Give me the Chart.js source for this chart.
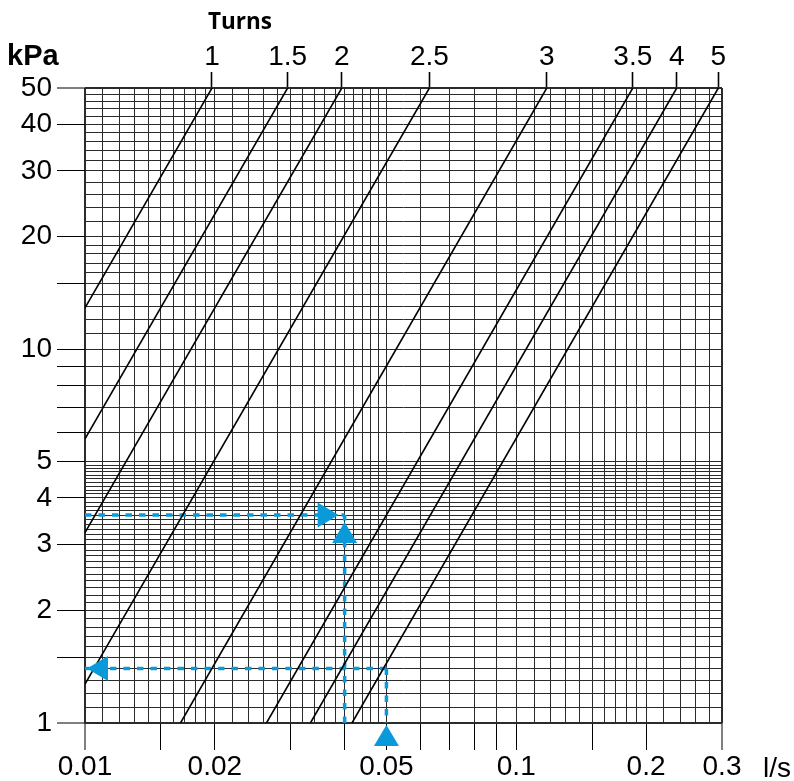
<!DOCTYPE html>
<html><head><meta charset="utf-8">
<script src="https://cdn.jsdelivr.net/npm/chart.js@4/dist/chart.umd.min.js"></script>
<style>html,body{margin:0;padding:0;background:#fff;}canvas{display:block;}</style>
</head><body>
<canvas id="c" width="794" height="781"></canvas>
<script>
// ---- data ----
const turnLabels    = ['1', '1.5', '2', '2.5', '3', '3.5', '4', '5'];
const turnStartFlow = [0.01, 0.01, 0.01, 0.01, 0.01665, 0.02635, 0.03332, 0.0416];
const turnStartDp   = [12.9, 5.76, 3.23, 1.27, 1, 1, 1, 1];
const turnEndFlow   = [0.0197, 0.0295, 0.0394, 0.0629, 0.1177, 0.1863, 0.2356, 0.2942];
const turnEndDp     = [50, 50, 50, 50, 50, 50, 50, 50];

const flowGrid = [0.010,0.011,0.012,0.013,0.014,0.015,0.016,0.017,0.018,0.019,0.020,
  0.022,0.024,0.026,0.028,0.030,0.032,0.034,0.036,0.038,0.040,0.042,0.044,0.046,0.048,0.050,
  0.06,0.07,0.08,0.09,0.10,0.11,0.12,0.13,0.14,0.15,0.16,0.17,0.18,0.19,0.20,
  0.22,0.24,0.26,0.28,0.30];
const flowTickMarks = [0.01,0.015,0.02,0.03,0.04,0.05,0.06,0.07,0.08,0.09,0.1,0.15,0.2,0.3];
const flowLabels = [0.01, 0.02, 0.05, 0.1, 0.2, 0.3];

const dpGrid = [1,1.1,1.2,1.3,1.4,1.5,1.6,1.7,1.8,1.9,2,2.1,2.2,2.3,2.4,2.5,2.6,2.7,2.8,2.9,
  3,3.1,3.2,3.3,3.4,3.5,3.6,3.7,3.8,3.9,4,4.1,4.2,4.3,4.4,4.5,4.6,4.7,4.8,4.9,5,
  6,7,8,9,10,11,12,13,14,15,16,17,18,19,20,22,24,26,28,30,32,34,36,38,40,42,44,46,48,50];
const dpTickMarks = [1,1.5,2,3,4,5,6,7,8,9,10,15,20,30,40,50];
const dpLabels = [1,2,3,4,5,10,20,30,40,50];

// worked examples (blue dashed)
const example1Flow = 0.04, example1Dp = 3.6;
const example2Flow = 0.05, example2Dp = 1.4;
const flowMin = 0.01, flowMax = 0.3, dpMin = 1, dpMax = 50;

// ---- helpers ----
const isIn = (arr, v) => arr.some(a => Math.abs(a - v) <= 1e-6 * Math.max(1, Math.abs(a)) || Math.abs(a - v) < 1e-9);
const BLUE = '#0b9ad9';
const GRID = '#2b2b2b';
const NUMFONT = {family: "'Liberation Sans', Arial, sans-serif", size: 28};

const datasets = turnLabels.map((t, i) => ({
  label: 'Turns ' + t,
  data: [{x: turnStartFlow[i], y: turnStartDp[i]}, {x: turnEndFlow[i], y: turnEndDp[i]}],
  borderColor: '#000', borderWidth: 1.6, showLine: true, pointRadius: 0, tension: 0, fill: false
}));
const dashed = (pts) => ({
  data: pts, borderColor: BLUE, borderWidth: 3.5, borderDash: [6.5, 7], borderCapStyle: 'butt',
  showLine: true, pointRadius: 0, tension: 0, fill: false
});
datasets.push(dashed([{x: flowMin, y: example1Dp}, {x: example1Flow, y: example1Dp}]));
datasets.push(dashed([{x: example1Flow, y: dpMin}, {x: example1Flow, y: example1Dp}]));
datasets.push(dashed([{x: example2Flow, y: example2Dp}, {x: flowMin, y: example2Dp}]));
datasets.push(dashed([{x: example2Flow, y: example2Dp}, {x: example2Flow, y: dpMin}]));

const arrowHeads = [
  {flow: example1Flow, dp: example1Dp, dir: 'right', gap: 6},
  {flow: example1Flow, dp: example1Dp, dir: 'up', gap: 7},
  {flow: flowMin, dp: example2Dp, dir: 'left', gap: 2},
  {flow: example2Flow, dp: dpMin, dir: 'up', gap: 2}
];

const decor = {
  id: 'decor',
  afterDatasetsDraw(chart) {
    const ctx = chart.ctx, xs = chart.scales.x, ys = chart.scales.y;
    ctx.save();
    ctx.fillStyle = BLUE;
    const L = 21, H = 12.5;
    arrowHeads.forEach(a => {
      let px = xs.getPixelForValue(a.flow), py = ys.getPixelForValue(a.dp);
      let dx = 0, dy = 0;
      if (a.dir === 'right') dx = 1; else if (a.dir === 'left') dx = -1;
      else if (a.dir === 'up') dy = -1; else dy = 1;
      const tx = px - dx * a.gap, ty = py - dy * a.gap;
      const bx = tx - dx * L, by = ty - dy * L;
      ctx.beginPath();
      ctx.moveTo(tx, ty);
      ctx.lineTo(bx + dy * H, by + dx * H);
      ctx.lineTo(bx - dy * H, by - dx * H);
      ctx.closePath();
      ctx.fill();
    });
    ctx.fillStyle = '#000';
    ctx.textBaseline = 'alphabetic';
    ctx.textAlign = 'left';
    ctx.font = "bold 29px 'Liberation Sans', Arial, sans-serif";
    ctx.fillText('kPa', 7, 65);
    ctx.font = "28px 'Liberation Sans', Arial, sans-serif";
    ctx.fillText('l/s', 763, 777);
    ctx.textAlign = 'center';
    ctx.font = "bold 22.5px 'Open Sans', sans-serif";
    ctx.fillText('Turns', 240, 29);
    ctx.restore();
  }
};

new Chart(document.getElementById('c'), {
  type: 'scatter',
  data: {datasets},
  plugins: [decor],
  options: {
    responsive: false, animation: false, events: [],
    layout: {padding: {left: 0, right: 72, top: 0, bottom: 0}},
    plugins: {legend: {display: false}, tooltip: {enabled: false}},
    scales: {
      x: {
        type: 'logarithmic', position: 'bottom', min: flowMin, max: flowMax,
        afterBuildTicks: s => { s.ticks = flowGrid.map(v => ({value: v})); },
        afterFit: s => { s.height = 58; },
        border: {display: false},
        grid: {
          color: GRID,
          lineWidth: c => (c.tick && (isIn([flowMin, flowMax], c.tick.value))) ? 2 : 1,
          drawTicks: true, tickLength: 27, tickWidth: 1,
          tickColor: c => (c.tick && isIn(flowTickMarks, c.tick.value)) ? '#000' : 'rgba(0,0,0,0)'
        },
        ticks: {
          autoSkip: false, maxRotation: 0, minRotation: 0, padding: 0, color: '#000', font: NUMFONT,
          callback: v => isIn(flowLabels, v) ? String(+v.toFixed(3)) : ''
        }
      },
      xTop: {
        type: 'logarithmic', position: 'top', axis: 'x', min: flowMin, max: flowMax,
        afterBuildTicks: s => { s.ticks = turnEndFlow.map(v => ({value: v})); },
        afterFit: s => { s.height = 88; },
        border: {display: false},
        grid: {drawOnChartArea: false, drawTicks: true, tickLength: 16, tickColor: '#000', tickWidth: 1.6},
        ticks: {
          autoSkip: false, maxRotation: 0, minRotation: 0, padding: -2, color: '#000', font: NUMFONT,
          callback: (v, i) => turnLabels[i]
        }
      },
      y: {
        type: 'logarithmic', position: 'left', min: dpMin, max: dpMax,
        afterBuildTicks: s => { s.ticks = dpGrid.map(v => ({value: v})); },
        afterFit: s => { s.width = 85; },
        border: {display: false},
        grid: {
          color: GRID,
          lineWidth: c => (c.tick && (isIn([dpMin, dpMax], c.tick.value))) ? 2 : 1,
          drawTicks: true, tickLength: 28, tickWidth: 1,
          tickColor: c => (c.tick && isIn(dpTickMarks, c.tick.value)) ? '#000' : 'rgba(0,0,0,0)'
        },
        ticks: {
          autoSkip: false, padding: 5, color: '#000', font: NUMFONT,
          callback: v => isIn(dpLabels, v) ? String(+v.toFixed(2)) : ''
        }
      }
    }
  }
});
</script>
</body></html>
